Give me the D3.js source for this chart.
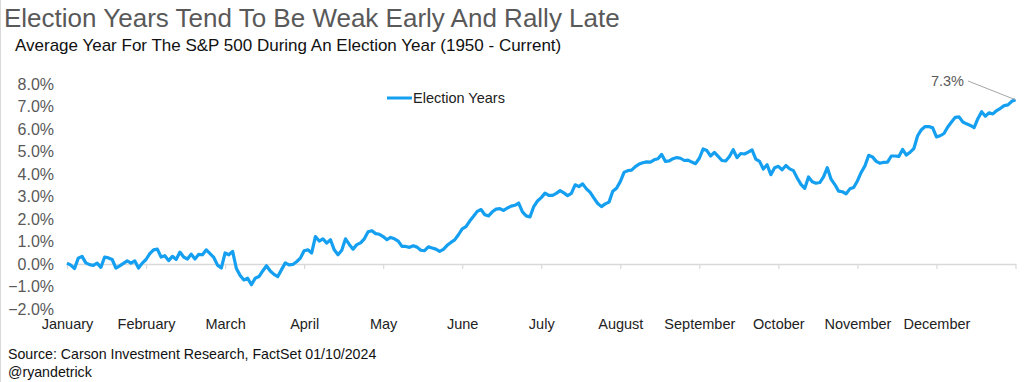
<!DOCTYPE html>
<html>
<head>
<meta charset="utf-8">
<script src="https://d3js.org/d3.v7.min.js"></script>
<style>
  body { margin: 0; background: #fff; }
  svg text { font-family: "Liberation Sans", Arial, sans-serif; }
</style>
</head>
<body>
<svg id="chart" width="1024" height="382"></svg>
<script>
// average S&P 500 path during election years, one value per trading day (%)
var electionYears = [
  0.04, -0.05, -0.20, 0.26, 0.34, 0.05, -0.03, -0.06, 0.04, -0.15, 0.31, 0.27, 0.20, -0.18, -0.08, 0.03, 0.14, 0.04, 0.14, -0.18, 0.04,
  0.20, 0.46, 0.63, 0.66, 0.31, 0.37, 0.15, 0.34, 0.20, 0.53, 0.31, 0.22, 0.44, 0.22, 0.43, 0.41, 0.63, 0.46, 0.29, -0.05, -0.18,
  0.49, 0.41, 0.56, -0.20, -0.51, -0.71, -0.63, -0.92, -0.63, -0.56, -0.31, -0.08, -0.31, -0.46, -0.56, -0.25, 0.05, -0.04, -0.02, 0.10,
  0.26, 0.59, 0.63, 0.49, 1.22, 1.02, 1.12, 0.93, 1.08, 0.63, 0.41, 0.61, 1.12, 0.87, 0.66, 0.86, 0.94, 1.12, 1.43, 1.48, 1.35,
  1.32, 1.22, 1.08, 1.18, 1.12, 1.02, 0.78, 0.78, 0.74, 0.81, 0.75, 0.61, 0.59, 0.76, 0.71, 0.66, 0.56, 0.65, 0.83, 0.96, 1.07,
  1.30, 1.56, 1.66, 1.91, 2.12, 2.34, 2.42, 2.19, 2.14, 2.32, 2.44, 2.46, 2.38, 2.49, 2.57, 2.61, 2.71, 2.32, 2.14, 2.09, 2.55,
  2.80, 2.95, 3.15, 3.05, 3.05, 3.14, 3.26, 3.16, 3.04, 3.14, 3.52, 3.44, 3.56, 3.34, 3.18, 2.93, 2.69, 2.55, 2.67, 2.75, 3.23,
  3.37, 3.66, 4.07, 4.15, 4.17, 4.33, 4.44, 4.50, 4.54, 4.53, 4.63, 4.68, 4.87, 4.56, 4.58, 4.68, 4.73, 4.70, 4.60, 4.62, 4.53,
  4.46, 4.70, 5.11, 5.04, 4.80, 4.96, 4.78, 4.60, 4.58, 4.78, 5.08, 4.73, 4.91, 4.89, 4.97, 5.07, 4.66, 4.56, 4.22, 4.41, 3.97,
  4.28, 4.34, 4.19, 4.38, 4.23, 4.15, 3.82, 3.54, 3.36, 3.87, 3.66, 3.59, 3.62, 3.87, 4.28, 3.77, 3.53, 3.24, 3.21, 3.12, 3.34,
  3.40, 3.69, 4.07, 4.36, 4.83, 4.76, 4.56, 4.48, 4.52, 4.53, 4.80, 4.80, 4.78, 5.09, 4.84, 4.97, 5.13, 5.70, 5.97, 6.11, 6.11,
  6.05, 5.65, 5.70, 5.80, 6.09, 6.31, 6.52, 6.54, 6.31, 6.23, 6.16, 6.06, 6.46, 6.77, 6.57, 6.72, 6.67, 6.82, 6.92, 7.04, 7.07, 7.23,
  7.30
];
var months = ["January", "February", "March", "April", "May", "June", "July",
              "August", "September", "October", "November", "December"];
var daysPerMonth = 21;
var yTicks = [-2, -1, 0, 1, 2, 3, 4, 5, 6, 7, 8];

var svg = d3.select("#chart");
var lineColor = "#149ff0";

var x = d3.scaleLinear().domain([0, electionYears.length - 1]).range([67, 1015.5]);
var y = d3.scaleLinear().domain([-2, 8]).range([309, 84]);

// left edge rule
svg.append("line").attr("x1", 0.5).attr("x2", 0.5).attr("y1", 0).attr("y2", 382)
  .attr("stroke", "#d9d9d9");

// titles
svg.append("text").attr("x", 4).attr("y", 27)
  .style("font-size", "26px").attr("fill", "#595959")
  .text("Election Years Tend To Be Weak Early And Rally Late");
svg.append("text").attr("x", 15).attr("y", 51)
  .style("font-size", "17px").attr("fill", "#111")
  .text("Average Year For The S&P 500 During An Election Year (1950 - Current)");

// y axis labels
var yAxis = d3.axisLeft(y).tickValues(yTicks).tickSize(0).tickPadding(0)
  .tickFormat(function(d) { return d3.format(".1f")(d) + "%"; });
var gy = svg.append("g").attr("transform", "translate(54,0)").call(yAxis);
gy.select(".domain").remove();
gy.selectAll("text").style("font-size", "16px").attr("fill", "#595959")
  .style("font-family", "'Liberation Sans', Arial, sans-serif");

// zero line with month tick marks
var monthStarts = d3.range(0, electionYears.length, daysPerMonth);
var xAxis = d3.axisBottom(x).tickValues(monthStarts).tickSize(5).tickSizeOuter(0)
  .tickFormat("");
var gx = svg.append("g").attr("transform", "translate(0," + y(0) + ")").call(xAxis);
gx.select(".domain").attr("stroke", "#d9d9d9").attr("stroke-width", 1.5);
gx.selectAll(".tick line").attr("stroke", "#d9d9d9").attr("stroke-width", 1.2);

// month labels along the bottom
var labelAxis = d3.axisBottom(x).tickValues(monthStarts.slice(0, months.length))
  .tickSize(0).tickPadding(0)
  .tickFormat(function(d, i) { return months[i]; });
var gl = svg.append("g").attr("transform", "translate(0,319)").call(labelAxis);
gl.select(".domain").remove();
gl.selectAll("text").style("font-size", "14.5px").attr("fill", "#222")
  .style("font-family", "'Liberation Sans', Arial, sans-serif");

// series line
var line = d3.line()
  .x(function(d, i) { return x(i); })
  .y(function(d) { return y(d); });
svg.append("path").datum(electionYears)
  .attr("d", line)
  .attr("fill", "none")
  .attr("stroke", lineColor)
  .attr("stroke-width", 3.2)
  .attr("stroke-linejoin", "round");

// legend
svg.append("line").attr("x1", 387).attr("x2", 412).attr("y1", 98).attr("y2", 98)
  .attr("stroke", lineColor).attr("stroke-width", 3);
svg.append("text").attr("x", 413).attr("y", 103)
  .style("font-size", "14.5px").attr("fill", "#222").text("Election Years");

// end value label
var last = electionYears.length - 1;
svg.append("line")
  .attr("x1", 968).attr("y1", 81)
  .attr("x2", x(last)).attr("y2", y(electionYears[last]))
  .attr("stroke", "#a6a6a6").attr("stroke-width", 1);
svg.append("text").attr("x", 964).attr("y", 86).attr("text-anchor", "end")
  .style("font-size", "14.5px").attr("fill", "#595959")
  .text(d3.format(".1f")(electionYears[last]) + "%");

// source notes
svg.append("text").attr("x", 8).attr("y", 359)
  .style("font-size", "14.2px").attr("fill", "#111")
  .text("Source: Carson Investment Research, FactSet 01/10/2024");
svg.append("text").attr("x", 8).attr("y", 377)
  .style("font-size", "14.2px").attr("fill", "#111")
  .text("@ryandetrick");
</script>
</body>
</html>
